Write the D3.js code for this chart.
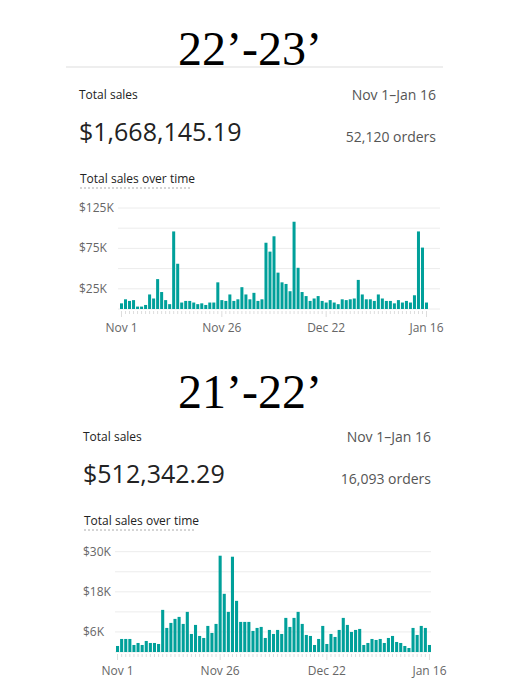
<!DOCTYPE html>
<html><head><meta charset="utf-8">
<script src="https://cdn.jsdelivr.net/npm/d3@7"></script>
<style>body{margin:0;background:#fff}</style></head>
<body><svg id="c" width="528" height="682"></svg>
<script>
const sales2223 = [7,12,10,11,3,3,5,18,13,37,21,11,6,96,56,8,10,10,8,6,7,5,8,8,33,11,10,18,10,12,27,18,12,20,10,12,82,71,90,45,33,31,22,108,51,21,16,10,13,16,10,8,11,8,6,12,11,12,13,36,18,12,12,10,18,13,10,10,7,11,8,10,8,17,96,76,8];
const sales2122 = [1.8,3.9,3.9,3.9,2.1,2.7,2.1,3.3,2.7,2.7,2.4,12.6,7.2,8.7,9.9,10.5,8.4,12,5.4,8.1,4.8,4.2,7.8,5.7,8.4,28.8,17.4,12,28.5,15.3,9,9,9,6.3,7.2,7.5,4.2,6.6,5.4,6.6,5.4,10.2,7.5,10.2,12,8.4,5.1,4.8,2.1,3.9,7.8,2.4,5.4,4.5,6.6,10.2,8.1,6,6.6,6.9,2.1,2.7,3.9,3.6,3.9,2.7,4.2,4.8,3,2.7,1.8,1.2,7.2,5.1,7.8,7.2,2.1];
const grid2223 = [0,25,50,75,100,125];
const labels2223 = [25,75,125];
const grid2122 = [0,6,12,18,24,30];
const labels2122 = [6,18,30];
const tickDays = [0,25,51,76];
const tickLabels = ["Nov 1","Nov 26","Dec 22","Jan 16"];

const svg = d3.select("#c");
const sans = "'Segoe UI','Open Sans','Noto Sans',sans-serif";

function panel(o){
  const g = svg.append("g");
  g.append("text").attr("x",o.titleX).attr("y",o.titleY).attr("text-anchor","middle")
    .attr("font-family","'Liberation Serif','DejaVu Serif',serif").attr("font-size",48).attr("fill","#000").text(o.title);
  if(o.divider) g.append("line").attr("x1",66).attr("x2",443).attr("y1",o.divider).attr("y2",o.divider).attr("stroke","#ddd");
  g.append("text").attr("x",o.left).attr("y",o.top).attr("font-family",sans).attr("font-size",12).attr("font-weight",500).attr("fill","#222").text("Total sales");
  g.append("text").attr("x",o.right).attr("y",o.top+1).attr("text-anchor","end").attr("font-family",sans).attr("font-size",14).attr("fill","#555").text("Nov 1–Jan 16");
  g.append("text").attr("x",o.left).attr("y",o.top+42).attr("font-family",sans).attr("font-size",25).attr("fill","#222").text(o.total);
  g.append("text").attr("x",o.right).attr("y",o.top+43).attr("text-anchor","end").attr("font-family",sans).attr("font-size",14).attr("fill","#555").text(o.orders);
  g.append("text").attr("x",o.left+1).attr("y",o.top+84).attr("font-family",sans).attr("font-size",12).attr("font-weight",500).attr("fill","#222").text("Total sales over time");
  g.append("line").attr("x1",o.left+1).attr("x2",o.left+111).attr("y1",o.top+89).attr("y2",o.top+89)
    .attr("stroke","#aaa").attr("stroke-dasharray","2,2");
  const x = d3.scaleBand().domain(d3.range(o.data.length)).range([o.x0,o.x1]).paddingInner(0.25);
  const y = d3.scaleLinear().domain([0,o.max]).range([o.base,o.yTop]);
  g.selectAll(".gl").data(o.grid).join("line").attr("x1",o.gx0).attr("x2",o.gx1)
    .attr("y1",d=>y(d)).attr("y2",d=>y(d)).attr("stroke","#ececec");
  g.selectAll(".yl").data(o.labels).join("text").attr("x",o.left).attr("y",d=>y(d)+4)
    .attr("font-family",sans).attr("font-size",12).attr("fill","#666").text(d=>"$"+d+"K");
  g.selectAll(".b").data(o.data).join("rect").attr("x",(d,i)=>x(i)).attr("width",x.bandwidth())
    .attr("y",d=>y(d)).attr("height",d=>o.base-y(d)).attr("fill","#00a09a");
  g.selectAll(".tk").data(o.data).join("line").attr("x1",(d,i)=>x(i)+x.bandwidth()/2).attr("x2",(d,i)=>x(i)+x.bandwidth()/2)
    .attr("y1",o.base+2).attr("y2",(d,i)=>tickDays.includes(i)?o.base+8:o.base+5).attr("stroke","#ddd");
  g.selectAll(".xl").data(tickDays).join("text").attr("x",d=>x(d)+x.bandwidth()/2).attr("y",o.base+23)
    .attr("text-anchor","middle").attr("font-family",sans).attr("font-size",12).attr("fill","#666").text((d,i)=>tickLabels[i]);
}

panel({title:"22’-23’",titleX:250,titleY:65,divider:67,left:79,right:436,top:99,
  total:"$1,668,145.19",orders:"52,120 orders",data:sales2223,max:125,grid:grid2223,labels:labels2223,
  x0:120,x1:428,base:309,yTop:208,gx0:118,gx1:440});
panel({title:"21’-22’",titleX:250,titleY:408,divider:null,left:83,right:431,top:441,
  total:"$512,342.29",orders:"16,093 orders",data:sales2122,max:30,grid:grid2122,labels:labels2122,
  x0:116,x1:431,base:652,yTop:551.7,gx0:115,gx1:431});
</script></body></html>
